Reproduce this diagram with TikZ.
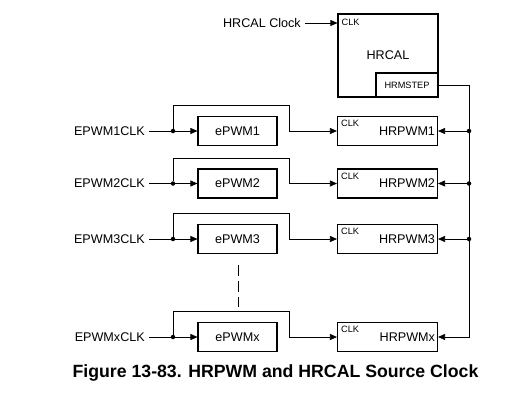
\documentclass[tikz,border=0pt]{standalone}
\usepackage{fontspec}
\setmainfont{Liberation Sans}
\usetikzlibrary{arrows.meta}
\tikzset{
  blk/.style={draw=black, line width=1.1pt, inner sep=0pt, minimum height=29pt, font=\fontsize{12.6}{14}\selectfont},
  epwm/.style={blk, minimum width=79pt},
  hrpwm/.style={blk, minimum width=100pt, text width=95pt, align=right},
  lbl/.style={font=\fontsize{12.6}{14}\selectfont, inner sep=4pt},
  tag/.style={font=\fontsize{9.2}{10}\selectfont, inner sep=0pt},
  wire/.style={line width=0.7pt},
  sig/.style={wire, -{Triangle[length=7pt,width=6pt]}},
  jn/.style={circle, fill=black, inner sep=0pt, minimum size=4.5pt},
}
\begin{document}
\begin{tikzpicture}[x=1pt,y=-1pt]
\useasboundingbox (0,0) rectangle (532,402);
% HRCAL block
\node [blk, minimum width=100pt, minimum height=83pt] (hrcal) at (388,55.5) {HRCAL};
\node [tag, anchor=north west] (hrcalclk) at ([shift={(4,5)}]hrcal.north west) {CLK};
\node [draw=black, line width=1.1pt, tag, minimum width=62pt, minimum height=24pt, anchor=south east] (step) at (hrcal.south east) {HRMSTEP};
\node [lbl, anchor=east] (hclk) at (305,23) {HRCAL Clock};
\draw [sig] (hclk.east) -- (hclk.east -| hrcal.west);
% row 1
\node [lbl, anchor=east] (c1) at (149,131) {EPWM1CLK};
\node [jn] (j1) at (173,131) {};
\node [epwm] (e1) at (237.5,131) {ePWM1};
\node [hrpwm] (h1) at (387.5,131) {HRPWM1};
\node [tag, anchor=north west] (h1clk) at ([shift={(4,4)}]h1.north west) {CLK};
\coordinate (k1) at (289,105);
\node [jn] (b1) at (469,131) {};
\draw [wire] (c1.east) -- (j1);
\draw [sig] (j1) -- (e1.west);
\draw [sig] (j1) |- (k1) |- (h1.west);
\draw [sig] (b1) -- (h1.east);
% row 2
\node [lbl, anchor=east] (c2) at (149,183.5) {EPWM2CLK};
\node [jn] (j2) at (173,183.5) {};
\node [epwm] (e2) at (237.5,183.5) {ePWM2};
\node [hrpwm] (h2) at (387.5,183.5) {HRPWM2};
\node [tag, anchor=north west] (h2clk) at ([shift={(4,4)}]h2.north west) {CLK};
\coordinate (k2) at (289,158);
\node [jn] (b2) at (469,183.5) {};
\draw [wire] (c2.east) -- (j2);
\draw [sig] (j2) -- (e2.west);
\draw [sig] (j2) |- (k2) |- (h2.west);
\draw [sig] (b2) -- (h2.east);
% row 3
\node [lbl, anchor=east] (c3) at (149,239) {EPWM3CLK};
\node [jn] (j3) at (173,239) {};
\node [epwm] (e3) at (237.5,239) {ePWM3};
\node [hrpwm] (h3) at (387.5,239) {HRPWM3};
\node [tag, anchor=north west] (h3clk) at ([shift={(4,4)}]h3.north west) {CLK};
\coordinate (k3) at (289,213.5);
\node [jn] (b3) at (469,239) {};
\draw [wire] (c3.east) -- (j3);
\draw [sig] (j3) -- (e3.west);
\draw [sig] (j3) |- (k3) |- (h3.west);
\draw [sig] (b3) -- (h3.east);
% row x
\node [lbl, anchor=east] (cx) at (149,337) {EPWMxCLK};
\node [jn] (jx) at (173,337) {};
\node [epwm] (ex) at (237.5,337) {ePWMx};
\node [hrpwm] (hx) at (387.5,337) {HRPWMx};
\node [tag, anchor=north west] (hxclk) at ([shift={(4,4)}]hx.north west) {CLK};
\coordinate (kx) at (289,311);
\coordinate (bx) at (469,337);
\draw [wire] (cx.east) -- (jx);
\draw [sig] (jx) -- (ex.west);
\draw [sig] (jx) |- (kx) |- (hx.west);
% HRMSTEP bus
\draw [sig] (step.east) -| (bx) -- (hx.east);
% more channels
\coordinate (d1) at (238,265);
\coordinate (d2) at (238,307);
\draw [wire, dash pattern=on 11pt off 5pt] (d1) -- (d2);
\node [font=\fontsize{17.7}{20}\selectfont\bfseries] (cap) at (275.5,373) {Figure 13-83. HRPWM and HRCAL Source Clock};
\end{tikzpicture}
\end{document}
